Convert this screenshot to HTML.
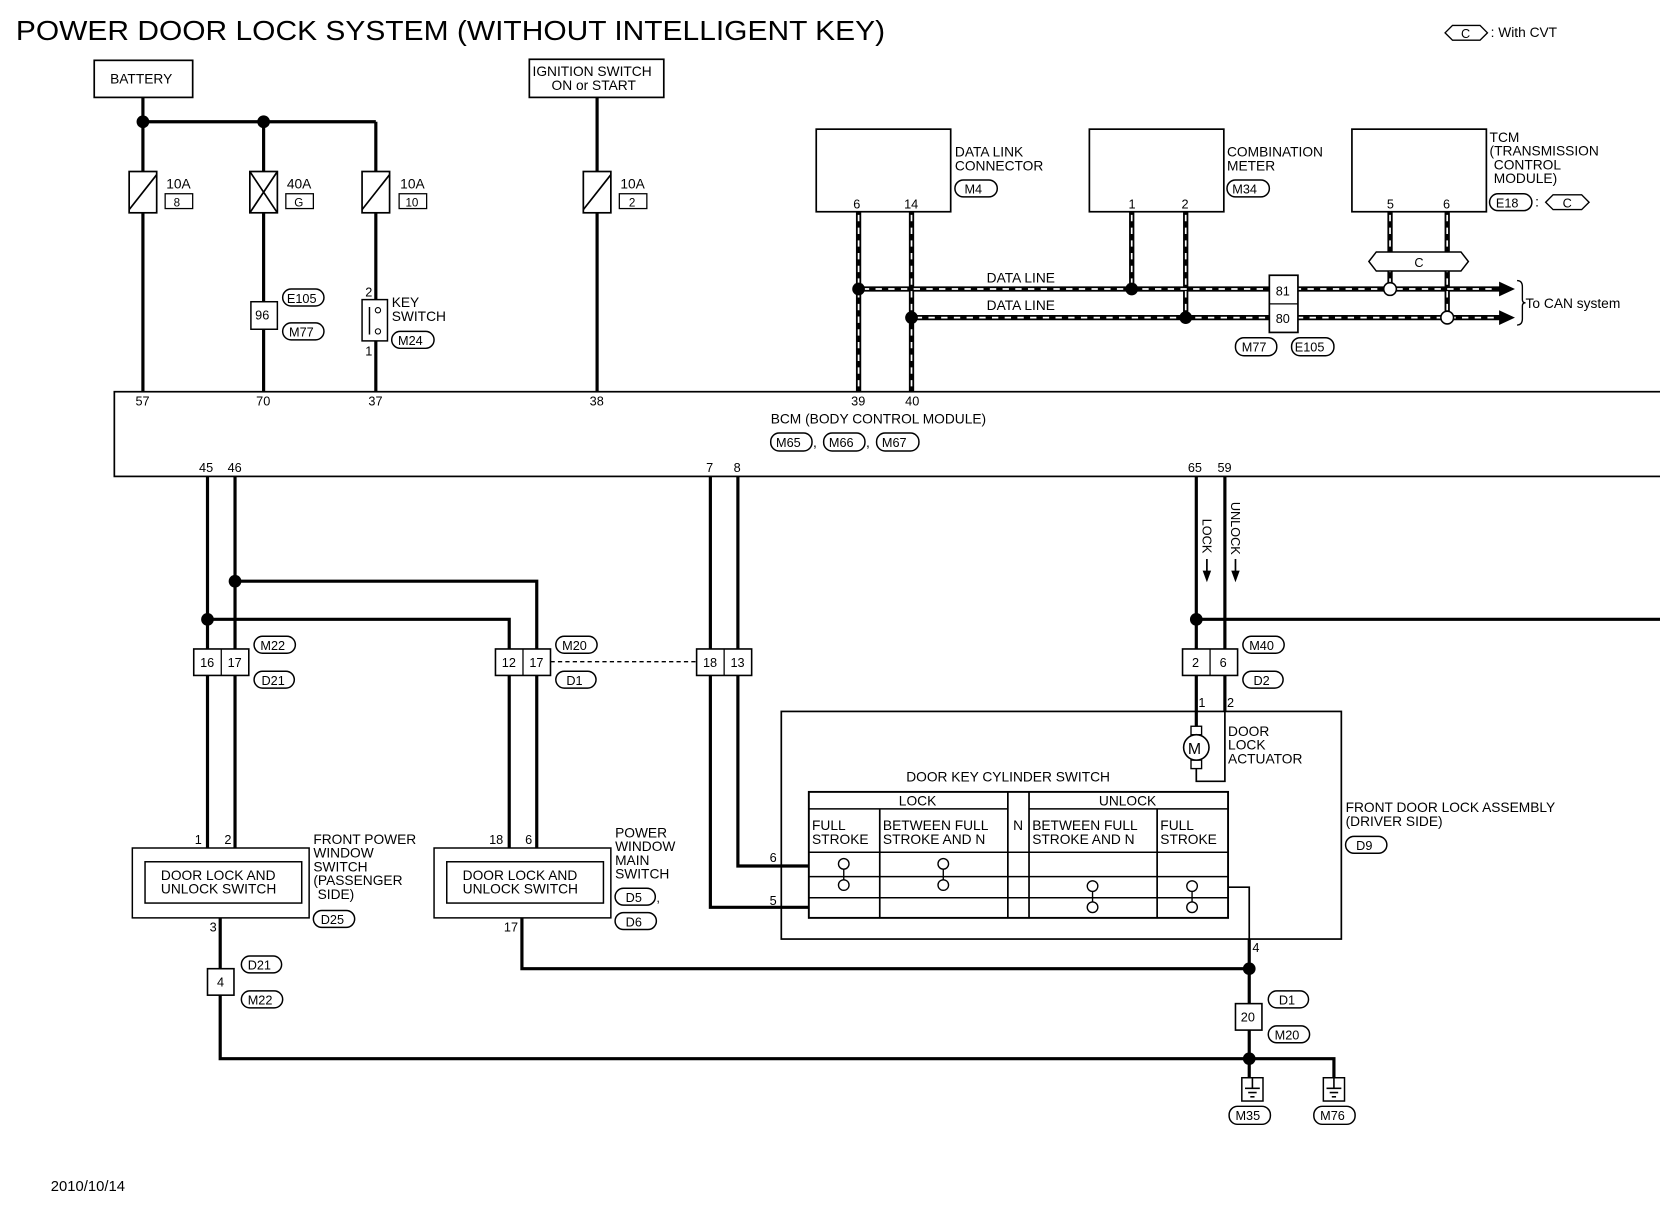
<!DOCTYPE html>
<html><head><meta charset="utf-8"><style>
html,body{margin:0;padding:0;background:#fff}
svg{display:block}
text{font-family:"Liberation Sans",sans-serif;fill:#000}
</style></head><body>
<svg width="1660" height="1216" viewBox="0 0 1568 1148.6" preserveAspectRatio="none" xmlns="http://www.w3.org/2000/svg">
<defs>
<g id="fuse"><rect x="-13" y="0" width="26" height="39" fill="#fff" stroke="#000" stroke-width="1.6"/><line x1="-13" y1="36" x2="13" y2="3" stroke="#000" stroke-width="1.6"/></g>
</defs>
<g font-size="13">
<text x="15" y="38" font-size="26" textLength="821" lengthAdjust="spacingAndGlyphs">POWER DOOR LOCK SYSTEM (WITHOUT INTELLIGENT KEY)</text>
<polygon points="1365,31 1372,24 1398,24 1405,31 1398,38 1372,38" fill="none" stroke="#000" stroke-width="1.3"/>
<text x="1380" y="36" font-size="12">C</text>
<text x="1408" y="35" font-size="13">: With CVT</text>

<g stroke="#000" fill="none" stroke-width="3">
<line x1="135" y1="92" x2="135" y2="370"/>
<line x1="135" y1="115" x2="355" y2="115"/>
<line x1="249" y1="115" x2="249" y2="370"/>
<line x1="355" y1="115" x2="355" y2="370"/>
<line x1="564" y1="92" x2="564" y2="370"/>
</g>
<circle cx="135" cy="115" r="6"/><circle cx="249" cy="115" r="6"/>
<rect x="89" y="57" width="93" height="35" fill="#fff" stroke="#000" stroke-width="1.6"/>
<text x="104" y="79">BATTERY</text>
<rect x="500" y="56" width="127" height="36" fill="#fff" stroke="#000" stroke-width="1.6"/>
<text x="503" y="72">IGNITION SWITCH</text><text x="521" y="85">ON or START</text>
<use href="#fuse" x="135" y="162"/><use href="#fuse" x="355" y="162"/><use href="#fuse" x="564" y="162"/>
<g transform="translate(249,162)"><rect x="-13" y="0" width="26" height="39" fill="#fff" stroke="#000" stroke-width="1.6"/><line x1="-13" y1="0" x2="13" y2="39" stroke="#000" stroke-width="1.6"/><line x1="-13" y1="39" x2="13" y2="0" stroke="#000" stroke-width="1.6"/></g>
<g fill="#fff" stroke="#000" stroke-width="1.2">
<rect x="156" y="183" width="26" height="14"/><rect x="270" y="183" width="26" height="14"/><rect x="377" y="183" width="26" height="14"/><rect x="585" y="183" width="26" height="14"/>
</g>
<text x="157" y="178">10A</text><text x="164" y="195" font-size="11">8</text>
<text x="271" y="178">40A</text><text x="278" y="195" font-size="11">G</text>
<text x="378" y="178">10A</text><text x="383" y="195" font-size="11">10</text>
<text x="586" y="178">10A</text><text x="594" y="195" font-size="11">2</text>
<rect x="237" y="285" width="25" height="26" fill="#fff" stroke="#000" stroke-width="1.4"/><text x="241" y="302" font-size="12">96</text>
<rect x="267" y="273" width="39" height="16" rx="8" fill="none" stroke="#000" stroke-width="1.4"/><text x="271" y="286" font-size="12">E105</text>
<rect x="267" y="305" width="39" height="16" rx="8" fill="none" stroke="#000" stroke-width="1.4"/><text x="273" y="318" font-size="12">M77</text>
<rect x="342" y="283" width="24" height="39" fill="#fff" stroke="#000" stroke-width="1.4"/>
<line x1="349" y1="290" x2="349" y2="316" stroke="#000" stroke-width="1.4"/>
<circle cx="357" cy="293" r="2.5" fill="#fff" stroke="#000"/><circle cx="357" cy="313" r="2.5" fill="#fff" stroke="#000"/>
<text x="345" y="280" font-size="12">2</text><text x="345" y="336" font-size="12">1</text>
<text x="370" y="290">KEY</text><text x="370" y="303">SWITCH</text>
<rect x="370" y="313" width="40" height="16" rx="8" fill="none" stroke="#000" stroke-width="1.4"/><text x="376" y="326" font-size="12">M24</text>

<g fill="#fff" stroke="#000" stroke-width="1.6">
<rect x="771" y="122" width="127" height="78"/><rect x="1029" y="122" width="127" height="78"/><rect x="1277" y="122" width="127" height="78"/>
</g>
<text x="806" y="197" font-size="12">6</text><text x="854" y="197" font-size="12">14</text>
<text x="1066" y="197" font-size="12">1</text><text x="1116" y="197" font-size="12">2</text>
<text x="1310" y="197" font-size="12">5</text><text x="1363" y="197" font-size="12">6</text>
<text x="902" y="148">DATA LINK</text><text x="902" y="161">CONNECTOR</text>
<rect x="902" y="170" width="40" height="16" rx="8" fill="none" stroke="#000" stroke-width="1.4"/><text x="911" y="183" font-size="12">M4</text>
<text x="1159" y="148">COMBINATION</text><text x="1159" y="161">METER</text>
<rect x="1159" y="170" width="40" height="16" rx="8" fill="none" stroke="#000" stroke-width="1.4"/><text x="1164" y="183" font-size="12">M34</text>
<text x="1407" y="134">TCM</text><text x="1407" y="147">(TRANSMISSION</text><text x="1411" y="160">CONTROL</text><text x="1411" y="173">MODULE)</text>
<rect x="1407" y="183" width="40" height="16" rx="8" fill="none" stroke="#000" stroke-width="1.4"/><text x="1413" y="196" font-size="12">E18</text>
<text x="1450" y="195">:</text>
<polygon points="1460,191 1467,184 1494,184 1501,191 1494,198 1467,198" fill="none" stroke="#000" stroke-width="1.3"/><text x="1476" y="196" font-size="12">C</text>
<g stroke="#000" stroke-width="5" fill="none">
<line x1="811" y1="200" x2="811" y2="370"/><line x1="861" y1="200" x2="861" y2="370"/>
<line x1="1069" y1="200" x2="1069" y2="273"/><line x1="1120" y1="200" x2="1120" y2="300"/>
<line x1="1313" y1="200" x2="1313" y2="273"/><line x1="1367" y1="200" x2="1367" y2="300"/>
<line x1="811" y1="273" x2="1420" y2="273"/><line x1="861" y1="300" x2="1420" y2="300"/>
</g>
<g stroke="#fff" stroke-width="1.6" fill="none" stroke-dasharray="6,6">
<line x1="811" y1="203" x2="811" y2="367"/><line x1="861" y1="203" x2="861" y2="367"/>
<line x1="1069" y1="203" x2="1069" y2="270"/><line x1="1120" y1="203" x2="1120" y2="297"/>
<line x1="1313" y1="203" x2="1313" y2="270"/><line x1="1367" y1="203" x2="1367" y2="297"/>
<line x1="815" y1="273" x2="1415" y2="273"/><line x1="865" y1="300" x2="1415" y2="300"/>
</g>
<polygon points="1416,266 1431,273 1416,280"/><polygon points="1416,293 1431,300 1416,307"/>
<path d="M1433,265 q5,0 5,6 v12 q0,3 3,3 q-3,0 -3,3 v12 q0,6 -5,6" fill="none" stroke="#000" stroke-width="1.3"/>
<text x="1441" y="291">To CAN system</text>
<circle cx="811" cy="273" r="6"/><circle cx="861" cy="300" r="6"/><circle cx="1069" cy="273" r="6"/><circle cx="1120" cy="300" r="6"/>
<circle cx="1313" cy="273" r="6" fill="#fff" stroke="#000" stroke-width="1.5"/><circle cx="1367" cy="300" r="6" fill="#fff" stroke="#000" stroke-width="1.5"/>
<polygon points="1293,247 1300,238 1380,238 1387,247 1380,256 1300,256" fill="#fff" stroke="#000" stroke-width="1.4"/><text x="1336" y="252" font-size="12">C</text>
<rect x="1199" y="260" width="27" height="54" fill="#fff" stroke="#000" stroke-width="1.6"/><line x1="1199" y1="287" x2="1226" y2="287" stroke="#000" stroke-width="1.2"/>
<text x="1205" y="279" font-size="12">81</text><text x="1205" y="305" font-size="12">80</text>
<text x="932" y="267">DATA LINE</text><text x="932" y="293">DATA LINE</text>
<rect x="1167" y="319" width="39" height="17" rx="8" fill="none" stroke="#000" stroke-width="1.4"/><text x="1173" y="332" font-size="12">M77</text>
<rect x="1220" y="319" width="40" height="17" rx="8" fill="none" stroke="#000" stroke-width="1.4"/><text x="1223" y="332" font-size="12">E105</text>

<rect x="108" y="370" width="1470" height="80" fill="none" stroke="#000" stroke-width="1.6"/>
<g font-size="12">
<text x="128" y="383">57</text><text x="242" y="383">70</text><text x="348" y="383">37</text><text x="557" y="383">38</text><text x="804" y="383">39</text><text x="855" y="383">40</text>
<text x="188" y="446">45</text><text x="215" y="446">46</text><text x="667" y="446">7</text><text x="693" y="446">8</text><text x="1122" y="446">65</text><text x="1150" y="446">59</text>
</g>
<text x="728" y="400">BCM (BODY CONTROL MODULE)</text>
<rect x="728" y="409" width="39" height="17" rx="8" fill="none" stroke="#000" stroke-width="1.4"/><text x="733" y="422" font-size="12">M65</text>
<text x="768" y="422">,</text>
<rect x="778" y="409" width="39" height="17" rx="8" fill="none" stroke="#000" stroke-width="1.4"/><text x="783" y="422" font-size="12">M66</text>
<text x="818" y="422">,</text>
<rect x="828" y="409" width="40" height="17" rx="8" fill="none" stroke="#000" stroke-width="1.4"/><text x="833" y="422" font-size="12">M67</text>

<g stroke="#000" fill="none" stroke-width="3">
<line x1="196" y1="450" x2="196" y2="801"/><line x1="222" y1="450" x2="222" y2="801"/>
<polyline points="222,549 507,549 507,801"/><polyline points="196,585 481,585 481,801"/>
<polyline points="671,450 671,857 764,857"/><polyline points="697,450 697,818 764,818"/>
<line x1="1130" y1="450" x2="1130" y2="686"/><line x1="1157" y1="450" x2="1157" y2="672"/>
<line x1="1130" y1="585" x2="1578" y2="585"/>
<polyline points="208,867 208,1000 1260,1000 1260,1018"/>
<polyline points="493,867 493,915 1180,915"/>
<line x1="1180" y1="887" x2="1180" y2="1018"/>
</g>
<g stroke="#000" fill="none" stroke-width="1.6">
<polyline points="1130,726 1130,738 1157,738 1157,672"/>
<polyline points="1160,838 1180,838 1180,887"/>
<line x1="1140" y1="528" x2="1140" y2="542"/><line x1="1167" y1="528" x2="1167" y2="542"/>
</g>
<line x1="520" y1="625" x2="658" y2="625" stroke="#000" stroke-width="1.3" stroke-dasharray="4,3"/>
<circle cx="222" cy="549" r="6"/><circle cx="196" cy="585" r="6"/><circle cx="1130" cy="585" r="6"/><circle cx="1180" cy="915" r="6"/><circle cx="1180" cy="1000" r="6"/>
<polygon points="1136,539 1144,539 1140,550"/>
<polygon points="1163,539 1171,539 1167,550"/>
<text transform="translate(1136,490) rotate(90)" font-size="12">LOCK</text>
<text transform="translate(1163,474) rotate(90)" font-size="12">UNLOCK</text>

<g fill="#fff" stroke="#000" stroke-width="1.5">
<rect x="183" y="613" width="52" height="25"/><rect x="468" y="613" width="52" height="25"/><rect x="658" y="613" width="52" height="25"/><rect x="1117" y="613" width="52" height="25"/>
<rect x="196" y="915" width="25" height="25"/><rect x="1167" y="948" width="25" height="25"/>
</g>
<g stroke="#000" stroke-width="1.2"><line x1="209" y1="613" x2="209" y2="638"/><line x1="494" y1="613" x2="494" y2="638"/><line x1="684" y1="613" x2="684" y2="638"/><line x1="1143" y1="613" x2="1143" y2="638"/></g>
<g font-size="12">
<text x="189" y="630">16</text><text x="215" y="630">17</text><text x="474" y="630">12</text><text x="500" y="630">17</text>
<text x="664" y="630">18</text><text x="690" y="630">13</text><text x="1126" y="630">2</text><text x="1152" y="630">6</text>
<text x="205" y="932">4</text><text x="1172" y="965">20</text>
</g>
<g fill="none" stroke="#000" stroke-width="1.4">
<rect x="240" y="601" width="39" height="16" rx="8"/><rect x="240" y="634" width="38" height="16" rx="8"/>
<rect x="525" y="601" width="39" height="16" rx="8"/><rect x="525" y="634" width="38" height="16" rx="8"/>
<rect x="1174" y="601" width="39" height="16" rx="8"/><rect x="1174" y="634" width="38" height="16" rx="8"/>
<rect x="228" y="903" width="38" height="16" rx="8"/><rect x="228" y="936" width="39" height="16" rx="8"/>
<rect x="1198" y="936" width="38" height="16" rx="8"/><rect x="1198" y="969" width="39" height="16" rx="8"/>
<rect x="1161" y="1045" width="39" height="17" rx="8"/><rect x="1241" y="1045" width="39" height="17" rx="8"/>
<rect x="296" y="860" width="39" height="16" rx="8"/>
<rect x="581" y="839" width="38" height="16" rx="8"/><rect x="581" y="862" width="39" height="16" rx="8"/>
<rect x="1271" y="790" width="39" height="16" rx="8"/>
<rect x="1173" y="1018" width="20" height="22"/><rect x="1250" y="1018" width="20" height="22"/>
</g>
<g font-size="12">
<text x="246" y="614">M22</text><text x="247" y="647">D21</text>
<text x="531" y="614">M20</text><text x="535" y="647">D1</text>
<text x="1180" y="614">M40</text><text x="1184" y="647">D2</text>
<text x="234" y="916">D21</text><text x="234" y="949">M22</text>
<text x="1208" y="949">D1</text><text x="1204" y="982">M20</text>
<text x="1167" y="1058">M35</text><text x="1247" y="1058">M76</text>
<text x="303" y="873">D25</text><text x="591" y="852">D5</text><text x="620" y="852">,</text><text x="591" y="875">D6</text>
<text x="1281" y="803">D9</text>
</g>
<g stroke="#000" stroke-width="1.5"><line x1="1183" y1="1018" x2="1183" y2="1028"/><line x1="1176" y1="1028" x2="1190" y2="1028"/><line x1="1179" y1="1032" x2="1187" y2="1032"/><line x1="1181" y1="1036" x2="1185" y2="1036"/>
<line x1="1260" y1="1018" x2="1260" y2="1028"/><line x1="1253" y1="1028" x2="1267" y2="1028"/><line x1="1256" y1="1032" x2="1264" y2="1032"/><line x1="1258" y1="1036" x2="1262" y2="1036"/></g>

<rect x="125" y="801" width="167" height="66" fill="#fff" stroke="#000" stroke-width="1.4"/>
<rect x="137" y="814" width="148" height="39" fill="none" stroke="#000" stroke-width="1.4"/>
<text x="152" y="831">DOOR LOCK AND</text><text x="152" y="844">UNLOCK SWITCH</text>
<text x="184" y="797" font-size="12">1</text><text x="212" y="797" font-size="12">2</text><text x="198" y="880" font-size="12">3</text>
<text x="296" y="797">FRONT POWER</text><text x="296" y="810">WINDOW</text><text x="296" y="823">SWITCH</text><text x="296" y="836">(PASSENGER</text><text x="300" y="849">SIDE)</text>
<rect x="410" y="801" width="167" height="66" fill="#fff" stroke="#000" stroke-width="1.4"/>
<rect x="422" y="814" width="148" height="39" fill="none" stroke="#000" stroke-width="1.4"/>
<text x="437" y="831">DOOR LOCK AND</text><text x="437" y="844">UNLOCK SWITCH</text>
<text x="462" y="797" font-size="12">18</text><text x="496" y="797" font-size="12">6</text><text x="476" y="880" font-size="12">17</text>
<text x="581" y="791">POWER</text><text x="581" y="804">WINDOW</text><text x="581" y="817">MAIN</text><text x="581" y="830">SWITCH</text>

<rect x="738" y="672" width="529" height="215" fill="none" stroke="#000" stroke-width="1.6"/>
<text x="1271" y="767">FRONT DOOR LOCK ASSEMBLY</text><text x="1271" y="780">(DRIVER SIDE)</text>
<text x="1132" y="668" font-size="12">1</text><text x="1159" y="668" font-size="12">2</text>
<text x="1183" y="899" font-size="12">4</text>
<text x="727" y="814" font-size="12">6</text><text x="727" y="855" font-size="12">5</text>
<rect x="1125" y="686" width="10" height="8" fill="#fff" stroke="#000" stroke-width="1.3"/><rect x="1125" y="718" width="10" height="8" fill="#fff" stroke="#000" stroke-width="1.3"/>
<circle cx="1130" cy="706" r="12" fill="#fff" stroke="#000" stroke-width="1.5"/><text x="1122" y="712" font-size="15">M</text>
<text x="1160" y="695">DOOR</text><text x="1160" y="708">LOCK</text><text x="1160" y="721">ACTUATOR</text>
<text x="856" y="738">DOOR KEY CYLINDER SWITCH</text>
<g stroke="#000" fill="none">
<rect x="764" y="748" width="396" height="119" stroke-width="1.8"/>
<line x1="764" y1="764" x2="952" y2="764" stroke-width="1.4"/><line x1="972" y1="764" x2="1160" y2="764" stroke-width="1.4"/>
<line x1="764" y1="805" x2="1160" y2="805" stroke-width="1.4"/><line x1="764" y1="828" x2="1160" y2="828" stroke-width="1.4"/><line x1="764" y1="848" x2="1160" y2="848" stroke-width="1.4"/>
<line x1="831" y1="764" x2="831" y2="867" stroke-width="1.6"/><line x1="952" y1="748" x2="952" y2="867" stroke-width="1.6"/><line x1="972" y1="748" x2="972" y2="867" stroke-width="1.6"/><line x1="1093" y1="764" x2="1093" y2="867" stroke-width="1.6"/>
</g>
<text x="849" y="761">LOCK</text><text x="1038" y="761">UNLOCK</text><text x="957" y="784">N</text>
<text x="767" y="784">FULL</text><text x="767" y="797">STROKE</text>
<text x="834" y="784">BETWEEN FULL</text><text x="834" y="797">STROKE AND N</text>
<text x="975" y="784">BETWEEN FULL</text><text x="975" y="797">STROKE AND N</text>
<text x="1096" y="784">FULL</text><text x="1096" y="797">STROKE</text>
<g fill="#fff" stroke="#000" stroke-width="1.3">
<line x1="797" y1="816" x2="797" y2="836"/><circle cx="797" cy="816" r="5"/><circle cx="797" cy="836" r="5"/>
<line x1="891" y1="816" x2="891" y2="836"/><circle cx="891" cy="816" r="5"/><circle cx="891" cy="836" r="5"/>
<line x1="1032" y1="837" x2="1032" y2="857"/><circle cx="1032" cy="837" r="5"/><circle cx="1032" cy="857" r="5"/>
<line x1="1126" y1="837" x2="1126" y2="857"/><circle cx="1126" cy="837" r="5"/><circle cx="1126" cy="857" r="5"/>
</g>

<text x="48" y="1125" font-size="14">2010/10/14</text>
</g>
</svg>
</body></html>
